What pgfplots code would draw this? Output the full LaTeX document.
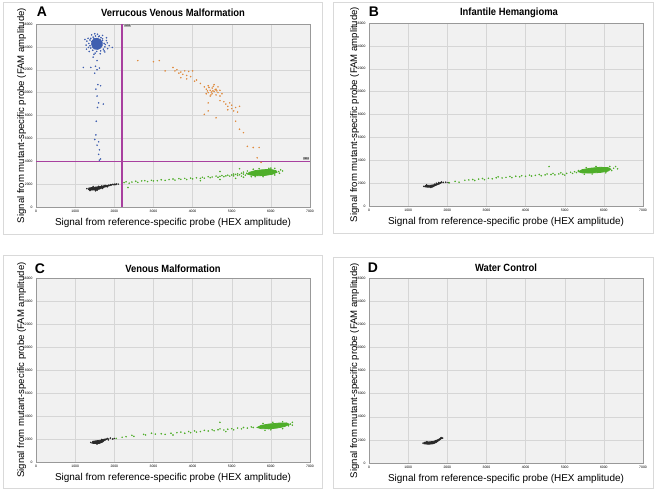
\documentclass[border=0pt]{standalone}
\usepackage{graphicx}
\usepackage{pgfplots}
\pgfplotsset{compat=1.18}
\usepackage{fontspec}
\setmainfont{Liberation Sans}
\definecolor{bgc}{HTML}{F1F1F1}
\definecolor{gridc}{HTML}{D6D6D6}
\definecolor{boxc}{HTML}{D9D9D9}
\definecolor{bluec}{HTML}{3F5FB0}
\definecolor{orangec}{HTML}{E08A3C}
\definecolor{greenc}{HTML}{4FAE2A}
\definecolor{blackc}{HTML}{2A2A2A}
\definecolor{purplec}{HTML}{A8409F}
\newcommand{\ptitle}[1]{\scalebox{0.9}[1]{\bfseries\fontsize{10.5}{12}\selectfont #1}}
\pgfplotsset{
  ddpcr/.style={
    scale only axis, width=274bp, height=183bp, anchor=south west,
    xmin=0, xmax=7000, ymin=0, ymax=16000,
    xtick={0,1000,...,7000}, ytick={0,2000,...,16000},
    scaled ticks=false,
    grid=major, major grid style={gridc, line width=0.4pt},
    axis background/.style={fill=bgc},
    axis line style={draw=gray!80, line width=0.5pt},
    tick style={draw=none},
    ticklabel style={font=\fontsize{3.4}{3.6}\selectfont},
    /pgf/number format/assume math mode=true,
    /pgf/number format/set thousands separator={},
    xlabel style={font=\fontsize{10}{12}\selectfont},
    ylabel style={font=\fontsize{9.6}{11}\selectfont},
    xlabel={Signal from reference-specific probe (HEX amplitude)},
    ylabel={Signal from mutant-specific probe (FAM amplitude)},
    xlabel shift=-1bp,
    ylabel shift=-10bp,
    clip=true,
  },
  ddots/.style={only marks, mark=*, mark size=0.55bp, color=#1, mark options={draw=none, fill=#1}},
  core/.style={draw=#1, fill=#1, line width=0.8pt},
}
\begin{document}
\begin{tikzpicture}[x=1bp,y=1bp]
\path (0,0) rectangle (655,490);
% panel boxes
\draw[boxc, line width=0.6pt] (3,256) rectangle (322,488);
\draw[boxc, line width=0.6pt] (333,257) rectangle (653,488);
\draw[boxc, line width=0.6pt] (3,2) rectangle (322,235);
\draw[boxc, line width=0.6pt] (333,2) rectangle (653,233);

% ================= A =================
\begin{axis}[ddpcr, at={(36bp,283bp)}]
% thresholds
\addplot[fill=purplec, draw=none] coordinates {(2175,0) (2225,0) (2225,16000) (2175,16000)} -- cycle;
\addplot[fill=purplec, draw=none] coordinates {(0,3890) (7000,3890) (7000,4050) (0,4050)} -- cycle;
% black cluster
\addplot[core=blackc] coordinates {(1340,1520) (1350,1660) (1450,1710) (1550,1750) (1650,1790) (1750,1840) (1850,1890) (1890,1870) (1800,1780) (1700,1690) (1620,1560) (1500,1490) (1400,1480)} -- cycle;
\addplot[ddots=blackc] coordinates {(1300,1600) (1900,1950) (1960,1980) (2000,1990) (2050,2010) (2100,2000) (1780,1880) (1680,1830) (1460,1790) (1380,1440) (1560,1460) (1700,1620) (1820,1760) (2040,1960) (1930,1930) (1860,1910) (1990,1940) (1600,1800) (1520,1420) (1740,1880)};
% green
\addplot[core=greenc] coordinates {(5400,2880) (5450,3030) (5600,3180) (5800,3260) (6000,3280) (6130,3180) (6160,3040) (6040,2860) (5850,2760) (5650,2730) (5500,2780)} -- cycle;
\addplot[ddots=greenc] coordinates {(2250,2130) (2300,2200) (2380,2080) (2450,2180) (2550,2250) (2600,2150) (2700,2280) (2780,2300) (2850,2220) (2950,2330) (3000,2280) (3100,2300) (3200,2380) (3300,2330) (3400,2400) (3500,2450) (3550,2350) (3650,2480) (3700,2420) (3800,2500) (3850,2400) (3950,2520) (4000,2460) (4100,2550) (4200,2500) (4250,2600) (4300,2520) (4400,2650) (4450,2560) (4500,2620) (4600,2700) (4650,2600) (4700,2680) (4750,2750) (4800,2650) (4850,2720) (4900,2780) (4950,2700) (5000,2800) (5050,2720) (5100,2850) (5150,2760) (5200,2820) (5250,2700) (5300,2880) (5350,2780) (5380,2950) (2350,1700) (4200,2300) (4700,2400) (5100,2500) (5300,2600) (5500,2650) (6000,3400) (6200,3100) (6250,3250) (6100,3380) (5950,3380) (5700,3350) (5550,3300) (5400,3150) (5300,3050) (5600,2650) (5800,2650) (6100,2800) (5200,3350) (4700,3100) (5250,2950) (5150,2900) (5050,2880) (6300,3150) (6220,2950)};
% blue
\addplot[core=bluec] coordinates {(1420,14250) (1440,14550) (1490,14700) (1560,14750) (1640,14650) (1690,14400) (1690,14100) (1650,13900) (1580,13780) (1490,13820) (1440,14000)} -- cycle;
\addplot[ddots=bluec] coordinates {(1350,14300) (1380,14600) (1400,13900) (1460,14850) (1520,14950) (1600,14900) (1700,14700) (1740,14300) (1760,14000) (1720,13800) (1650,13650) (1550,13600) (1450,13700) (1380,14100) (1300,14500) (1620,14950) (1480,14750) (1580,14050) (1950,13950) (1800,14550) (1510,13450) (1460,13100) (1560,12800) (1520,12300) (1400,12200) (1620,12150) (1560,12000) (1500,11700) (1580,10700) (1650,10600) (1530,10300) (1560,9700) (1600,9100) (1720,9000) (1570,8700) (1540,7500) (1530,6300) (1500,5900) (1600,5700) (1560,5400) (1620,5000) (1600,4600) (1650,4200) (1620,4100) (1210,12200) (1420,14450) (1700,14550) (1660,14800) (1400,14750) (1770,14200) (1340,13950) (1280,14150) (1330,14750) (1420,15050) (1570,15100) (1700,15000) (1800,14800) (1820,14350) (1830,13850) (1760,13550) (1640,13400) (1480,13350) (1360,13600) (1290,13800) (1250,14650) (1870,14100) (1740,13650) (1500,15150)};
% orange
\addplot[ddots=orangec] coordinates {(2600,12800) (3000,12700) (3150,12800) (3500,12200) (3550,11900) (3600,12000) (3650,11700) (3700,11800) (3750,11600) (3800,11900) (3850,11500) (3900,11850) (3950,11400) (4000,11900) (3700,11300) (3850,11200) (4050,11000) (4100,11100) (4200,10800) (4300,10500) (4350,10300) (4400,10600) (4400,10000) (4450,10200) (4500,10400) (4500,9900) (4550,10100) (4550,10700) (4600,10300) (4600,9800) (4650,10000) (4650,10500) (4700,10200) (4700,9700) (4750,9900) (4350,9900) (4450,9700) (4520,10150) (4480,10050) (4580,10250) (4420,10450) (4800,9200) (4850,9000) (4900,8800) (4950,9100) (5000,8600) (5050,8400) (5100,8700) (5150,8300) (5200,8800) (5000,8900) (4900,8500) (4700,9300) (4400,8400) (4300,8100) (4600,7800) (5300,6500) (5100,7500) (5200,6800) (5400,5300) (5550,5200) (5700,5200) (5650,4300) (5750,3900) (3300,11900) (4400,9100) (4620,10150) (4380,10150) (4530,10550) (4470,9800)};
\node[fill=gray!60, inner sep=0.4bp, font=\fontsize{2.5}{3}\selectfont, anchor=north west] at (axis cs:2250,15980) {2200};
\node[fill=gray!60, inner sep=0.4bp, font=\fontsize{2.5}{3}\selectfont, anchor=south east] at (axis cs:6990,4100) {3961};
\end{axis}
\node[font=\bfseries\fontsize{14}{16}\selectfont] at (42,478) {A};
\node at (173,477.5) {\ptitle{Verrucous Venous Malformation}};

% ================= B =================
\begin{axis}[ddpcr, at={(369bp,284bp)}]
\addplot[core=blackc] coordinates {(1420,1680) (1440,1790) (1550,1810) (1650,1850) (1750,1950) (1830,2060) (1860,2040) (1760,1880) (1680,1760) (1620,1650) (1500,1640)} -- cycle;
\addplot[ddots=blackc] coordinates {(1400,1720) (1780,2050) (1850,2100) (1720,1990) (1900,2060) (1960,2080) (2020,2040) (1580,1620) (1680,1900) (1800,1960) (1470,1850)};
\addplot[core=greenc] coordinates {(5350,3000) (5450,3180) (5650,3300) (5900,3380) (6100,3360) (6180,3220) (6100,3040) (5900,2930) (5650,2880) (5450,2890)} -- cycle;
\addplot[ddots=greenc] coordinates {(2050,2030) (2200,2150) (2300,2080) (2450,2250) (2550,2280) (2650,2320) (2700,2230) (2800,2350) (2900,2400) (2950,2300) (3050,2420) (3150,2380) (3250,2470) (3300,2550) (3400,2450) (3500,2500) (3600,2580) (3650,2480) (3750,2600) (3850,2550) (3900,2650) (4000,2600) (4100,2700) (4150,2620) (4250,2680) (4350,2750) (4400,2650) (4500,2720) (4550,2800) (4650,2750) (4700,2850) (4750,2720) (4850,2800) (4900,2900) (4950,2780) (5000,2700) (5050,2850) (5150,2950) (5200,2850) (5250,3000) (5300,2920) (4600,3450) (5350,3100) (6250,3300) (6300,3450) (6200,3100) (6150,3450) (5800,3450) (5550,3350) (6050,2900) (5700,2800) (5500,2780) (6350,3250)};
\end{axis}
\node[font=\bfseries\fontsize{14}{16}\selectfont] at (374,478) {B};
\node at (509,477.5) {\ptitle{Infantile Hemangioma}};

% ================= C =================
\begin{axis}[ddpcr, at={(36bp,28bp)}, height=184bp]
\addplot[core=blackc] coordinates {(1430,1640) (1450,1800) (1550,1850) (1650,1900) (1760,2000) (1830,2010) (1750,1880) (1700,1730) (1620,1620) (1500,1600)} -- cycle;
\addplot[ddots=blackc] coordinates {(1400,1700) (1820,2050) (1900,2080) (1960,2000) (2000,2050) (1680,1960) (1780,1940) (1560,1560) (1850,1920)};
\addplot[core=greenc] coordinates {(5650,3000) (5750,3180) (5950,3300) (6200,3380) (6400,3400) (6470,3280) (6350,3080) (6150,2950) (5950,2880) (5750,2900)} -- cycle;
\addplot[ddots=greenc] coordinates {(2050,2050) (2200,2150) (2300,2200) (2450,2320) (2500,2230) (2750,2400) (2800,2350) (2950,2500) (3050,2420) (3200,2450) (3300,2400) (3450,2500) (3500,2350) (3600,2550) (3700,2600) (3800,2500) (3900,2650) (3950,2550) (4050,2700) (4100,2600) (4200,2650) (4300,2750) (4400,2700) (4500,2800) (4550,2720) (4650,2800) (4700,2880) (4800,2780) (4850,2650) (4900,2850) (5000,2900) (5050,2800) (5150,2950) (5250,2880) (5300,3000) (5400,2950) (5500,3050) (5550,3000) (4700,3450) (6500,3300) (6550,3450) (6450,3150) (6300,3500) (6050,3450) (5800,3350) (6300,2900) (6000,2800) (5850,2750) (6550,3200)};
\end{axis}
\node[font=\bfseries\fontsize{14}{16}\selectfont] at (40,221) {C};
\node at (173,221.5) {\ptitle{Venous Malformation}};

% ================= D =================
\begin{axis}[ddpcr, at={(369bp,27bp)}, height=185bp]
\addplot[core=blackc] coordinates {(1400,1660) (1410,1800) (1550,1830) (1660,1880) (1760,2020) (1850,2180) (1870,2160) (1800,1980) (1720,1780) (1640,1660) (1520,1620)} -- cycle;
\addplot[ddots=blackc] coordinates {(1380,1720) (1840,2200) (1880,2150) (1700,1920) (1480,1850)};
\end{axis}
\node[font=\bfseries\fontsize{14}{16}\selectfont] at (373,222) {D};
\node at (506,222) {\ptitle{Water Control}};
\end{tikzpicture}
\end{document}
